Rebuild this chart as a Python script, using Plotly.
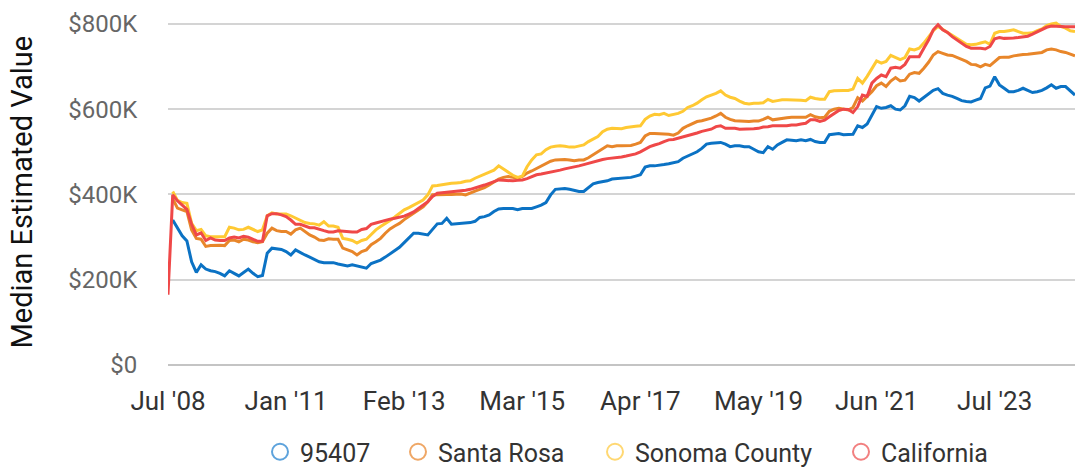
import plotly.graph_objects as go

# ---------------- data (values in $K) ----------------
MONTH_NAMES = ["Jan", "Feb", "Mar", "Apr", "May", "Jun",
               "Jul", "Aug", "Sep", "Oct", "Nov", "Dec"]
months = ["Jul '08"] + [f"{m} '{y:02d}" for y in range(9, 25) for m in MONTH_NAMES]

tick_labels = ["Jul '08", "Jan '11", "Feb '13", "Mar '15",
               "Apr '17", "May '19", "Jun '21", "Jul '23"]

y_ticks = [0, 200, 400, 600, 800]
y_tick_text = ["$0", "$200K", "$400K", "$600K", "$800K"]

series_names = ["95407", "Santa Rosa", "Sonoma County", "California"]

zip_95407 = [
    None, 340, 323, 303, 291, 242, 217, 235, 225, 221,
    219, 215, 209, 221, 215, 209, 217, 225, 215, 207,
    210, 262, 274, 272, 271, 266, 258, 270, 263, 258,
    253, 248, 242, 240, 240, 240, 237, 234, 232, 235,
    232, 229, 227, 238, 242, 246, 253, 260, 268, 276,
    287, 299, 309, 309, 307, 305, 318, 331, 332, 344,
    330, 331, 332, 333, 334, 337, 346, 348, 352, 360,
    366, 367, 367, 367, 364, 367, 367, 367, 371, 375,
    381, 399, 412, 413, 414, 412, 409, 407, 407, 417,
    425, 428, 430, 432, 436, 437, 438, 439, 440, 443,
    446, 464, 467, 467, 468, 470, 472, 475, 477, 485,
    490, 495, 500, 508, 518, 520, 521, 522, 518, 512,
    514, 514, 512, 512, 506, 500, 498, 512, 506, 516,
    522, 528, 527, 526, 528, 526, 529, 524, 522, 522,
    540, 541, 543, 540, 541, 541, 561, 557, 565, 587,
    606, 602, 604, 608, 600, 598, 608, 630, 627, 619,
    627, 637, 644, 648, 637, 633, 630, 625, 620, 618,
    617, 621, 625, 650, 654, 676, 657, 649, 641, 641,
    644, 649, 644, 639, 641, 644, 650, 657, 649, 653,
    653, 643, 633,
]

santa_rosa = [
    None, 390, 368, 364, 360, 317, 297, 295, 278, 280,
    281, 281, 280, 292, 293, 289, 295, 293, 289, 287,
    289, 309, 321, 315, 313, 313, 307, 317, 321, 313,
    305, 300, 293, 292, 296, 295, 295, 274, 270, 266,
    258, 266, 270, 282, 289, 297, 309, 319, 326, 332,
    341, 348, 356, 364, 371, 383, 399, 399, 400, 400,
    400, 400, 401, 399, 404, 408, 412, 416, 422, 430,
    436, 440, 442, 440, 438, 442, 450, 455, 461, 467,
    473, 478, 481, 482, 482, 481, 479, 481, 481, 486,
    493, 500, 508, 514, 512, 514, 514, 515, 515, 518,
    522, 537, 543, 543, 543, 542, 541, 539, 544, 555,
    561, 567, 571, 573, 576, 579, 584, 590, 581, 576,
    573, 572, 571, 571, 572, 572, 576, 581, 575, 577,
    579, 580, 581, 581, 581, 581, 587, 582, 580, 581,
    595, 600, 602, 600, 598, 604, 627, 619, 629, 641,
    655, 661, 653, 666, 674, 666, 668, 682, 686, 684,
    696, 710, 727, 735, 731, 727, 726, 721, 716, 712,
    705, 704, 699, 705, 702, 712, 721, 722, 722, 725,
    727, 728, 729, 730, 731, 733, 739, 741, 739, 735,
    733, 729, 725,
]

sonoma_county = [
    None, 407, 386, 381, 379, 332, 315, 318, 303, 301,
    301, 301, 301, 323, 321, 317, 318, 323, 318, 313,
    317, 350, 357, 354, 354, 354, 350, 344, 339, 334,
    332, 331, 328, 336, 326, 326, 323, 297, 295, 292,
    286, 292, 295, 307, 317, 325, 331, 339, 347, 356,
    364, 369, 375, 381, 387, 399, 420, 421, 423, 424,
    426, 427, 428, 431, 432, 438, 443, 448, 452, 457,
    467, 459, 451, 445, 440, 443, 465, 481, 493, 495,
    505, 511, 513, 514, 513, 511, 511, 513, 516, 524,
    530, 536, 547, 553, 555, 555, 554, 557, 559, 560,
    561, 576, 584, 588, 587, 590, 585, 588, 590, 595,
    604, 608, 614, 622, 629, 633, 637, 643, 633, 628,
    625, 619, 614, 612, 614, 614, 615, 623, 618, 620,
    622, 622, 622, 621, 621, 620, 628, 625, 623, 623,
    641, 643, 644, 644, 644, 647, 672, 661, 677, 696,
    713, 708, 712, 726, 721, 716, 721, 741, 739, 743,
    755, 770, 784, 794, 787, 780, 772, 765, 757, 752,
    751, 752, 755, 758, 752, 778, 782, 782, 784, 786,
    782, 778, 778, 779, 784, 788, 796, 800, 802, 794,
    790, 784, 782,
]

california = [
    165, 399, 385, 375, 365, 330, 305, 310, 292, 298,
    293, 292, 292, 298, 300, 298, 302, 300, 295, 290,
    290, 350, 355, 355, 352, 348, 340, 330, 330, 326,
    322, 322, 318, 315, 312, 312, 315, 314, 312, 312,
    312, 318, 320, 330, 333, 336, 340, 342, 344, 346,
    349, 354, 359, 367, 375, 383, 395, 403, 404, 405,
    406, 407, 408, 410, 412, 415, 418, 422, 426, 430,
    434, 433, 432, 432, 433, 434, 437, 442, 446, 448,
    450, 453, 455, 457, 460, 462, 465, 467, 470, 473,
    477, 479, 482, 484, 485, 487, 488, 490, 492, 495,
    500, 506, 512, 516, 519, 524, 528, 529, 532, 535,
    537, 540, 544, 548, 551, 553, 559, 561, 555, 555,
    555, 553, 553, 553, 554, 555, 558, 559, 561, 561,
    561, 561, 563, 563, 565, 567, 575, 575, 571, 574,
    582, 589, 597, 600, 599, 592, 606, 633, 630, 661,
    672, 680, 676, 696, 698, 696, 705, 723, 723, 723,
    743, 762, 786, 798, 786, 780, 770, 762, 754, 747,
    743, 743, 743, 741, 747, 765, 768, 766, 766, 767,
    768, 770, 771, 776, 782, 787, 792, 795, 795, 794,
    793, 793, 793,
]

all_series = [zip_95407, santa_rosa, sonoma_county, california]
for s in all_series:
    assert len(s) == len(months), (len(s), len(months))

# ---------------- styling ----------------
W, H = 1075, 467
line_colors = ["#0b72c4", "#e8862a", "#ffc933", "#ef4848"]
legend_colors = ["#5ea3dc", "#efa766", "#ffd873", "#f28080"]
legend_left_px = [260, 398, 595, 841]
FONT = "Roboto"

fig = go.Figure()
for name, vals, col in zip(series_names, all_series, line_colors):
    fig.add_trace(go.Scatter(
        x=months, y=vals, mode="lines", name=name,
        line=dict(color=col, width=3), showlegend=False,
    ))

legend_layouts = {}
for i, (name, col, lx) in enumerate(zip(series_names, legend_colors, legend_left_px)):
    key = "legend" if i == 0 else f"legend{i + 1}"
    fig.add_trace(go.Scatter(
        x=[None], y=[None], mode="markers", name=name,
        marker=dict(symbol="circle-open", size=16, color=col,
                    line=dict(width=2, color=col)),
        showlegend=True, legend=key,
    ))
    legend_layouts[key] = dict(
        orientation="h", xref="container", yref="container",
        x=lx / W, xanchor="left", y=15 / H, yanchor="middle",
        bgcolor="rgba(0,0,0,0)",
        font=dict(family=FONT, size=25, color="#333"),
        itemsizing="trace",
    )

fig.update_layout(
    width=W, height=H,
    margin=dict(l=168, r=0, t=13, b=102),
    plot_bgcolor="white", paper_bgcolor="white",
    font=dict(family=FONT, size=22, color="#333"),
    showlegend=True,
    xaxis=dict(
        type="category", range=[0, len(months) - 1],
        tickmode="array", tickvals=tick_labels, ticktext=tick_labels,
        showgrid=False, zeroline=False, showline=False,
        ticks="outside", ticklen=13, tickcolor="rgba(0,0,0,0)",
        tickfont=dict(family=FONT, size=26, color="#333"),
    ),
    yaxis=dict(
        range=[0, 825.5], tickmode="array",
        tickvals=y_ticks, ticktext=y_tick_text,
        showgrid=True, gridcolor="#d4d4d4", gridwidth=2,
        zeroline=True, zerolinecolor="#c4c4c4", zerolinewidth=2,
        showline=False,
        ticks="outside", ticklen=25, tickcolor="rgba(0,0,0,0)",
        tickfont=dict(family=FONT, size=24, color="#666"),
    ),
    annotations=[dict(
        text="Median Estimated Value", textangle=-90,
        xref="paper", yref="paper", x=0, y=0.49,
        xshift=-146, xanchor="center", yanchor="middle",
        showarrow=False, font=dict(family=FONT, size=29, color="#111"),
    )],
    **legend_layouts,
)

fig.write_html(
    "out.html",
    config={"displayModeBar": False},
    post_script="document.body.style.margin='0';document.body.style.overflow='hidden';",
)
